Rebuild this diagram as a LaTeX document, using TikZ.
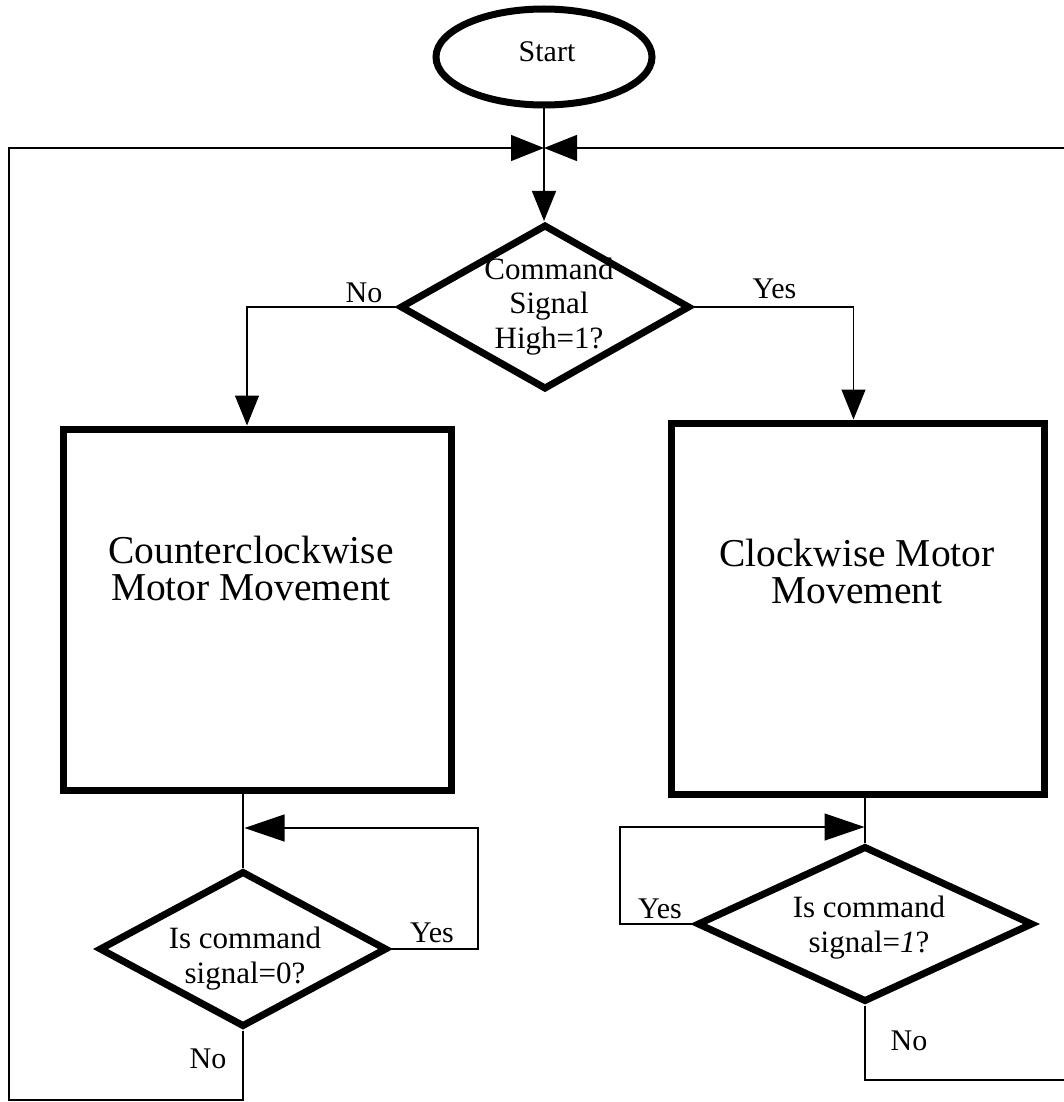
\documentclass[tikz,border=0pt]{standalone}
\usepackage{fontspec}
\setmainfont{Liberation Serif}
\usetikzlibrary{shapes.geometric,arrows.meta}
\begin{document}
\begin{tikzpicture}[x=1pt,y=-1pt,
  thinline/.style={line width=1.3pt},
  bold/.style={draw, line width=7pt, inner sep=0pt},
  termbox/.style={bold, ellipse, minimum width=216pt, minimum height=96pt},
  procbox/.style={bold, rectangle},
  decbox/.style={bold, diamond},
  arrA/.style={-{Triangle[length=30pt,width=24pt]}},
  arrB/.style={-{Triangle[length=40pt,width=27pt]}},
  arrJ/.style={-{Triangle[length=33pt,width=26pt]}},
  lbl/.style={font=\fontsize{30}{34}\selectfont, inner sep=0pt, anchor=base},
  dtxt/.style={font=\fontsize{31}{34.5}\selectfont, inner sep=0pt, anchor=base, align=center},
  bigtxt/.style={font=\fontsize{39.5}{37}\selectfont, inner sep=0pt, anchor=base, align=center},
]
\useasboundingbox (0,0) rectangle (1064,1102);

% shapes
\node[termbox] (start) at (544,57) {};
\node[lbl] (starttxt) at (547,62) {Start};

\node[decbox, minimum width=290pt, minimum height=165pt] (d1) at (545,307) {};
\node[dtxt] (d1t) at (549,348) {Command\\Signal\\High=1?};

\node[procbox, minimum width=388pt, minimum height=361pt] (lbox) at (257,609.5) {};
\node[bigtxt] (lboxt) at (251,600) {Counterclockwise\\Motor Movement};

\node[procbox, minimum width=373pt, minimum height=371pt] (rbox) at (857.5,608.5) {};
\node[bigtxt] (rboxt) at (857,603) {Clockwise Motor\\Movement};

\node[decbox, minimum width=288pt, minimum height=156pt] (d2) at (243,949) {};
\node[dtxt] (d2t) at (245,983) {Is command\\signal=0?};

\node[decbox, minimum width=336pt, minimum height=156pt] (d3) at (865,924) {};
\node[dtxt] (d3t) at (869,952) {Is command\\signal=\textit{1}?};

% labels
\node[lbl] (no1) at (364,302) {No};
\node[lbl] (yes1) at (774.5,298) {Yes};
\node[lbl] (yes2) at (432,942) {Yes};
\node[lbl] (no2) at (208,1068) {No};
\node[lbl] (yes3) at (660,918) {Yes};
\node[lbl] (no3) at (909,1050) {No};

% coordinates
\coordinate (J) at (544,148);
\coordinate (Lc) at (9,148);
\coordinate (Lb) at (9,1100);
\coordinate (Rc) at (1072,148);
\coordinate (Rb) at (1072,1080);
\coordinate (l1) at (478,828);
\coordinate (l2) at (244.5,828);
\coordinate (r1) at (620,827);
\coordinate (r2) at (864.5,827);

% connectors
\draw[thinline, arrA] (start.south) -- (d1.north -| start.south);
\draw[thinline, arrA] (d1.west) -| ([xshift=-10pt]lbox.north);
\draw[thinline, arrA] (d1.east) -| ([xshift=-4pt]rbox.north);

\draw[thinline] (d2.north |- lbox.south) -- (d2.north);
\draw[thinline, arrB] (d2.east) -| (l1) -- (l2);
\draw[thinline, arrJ] (d2.south) |- (Lb) -- (Lc) -- (J);

\draw[thinline] (d3.north |- rbox.south) -- (d3.north);
\draw[thinline, arrB] (d3.west) -| (r1) -- (r2);
\draw[thinline, arrJ] (d3.south) |- (Rb) -- (Rc) -- (J);
\end{tikzpicture}
\end{document}
